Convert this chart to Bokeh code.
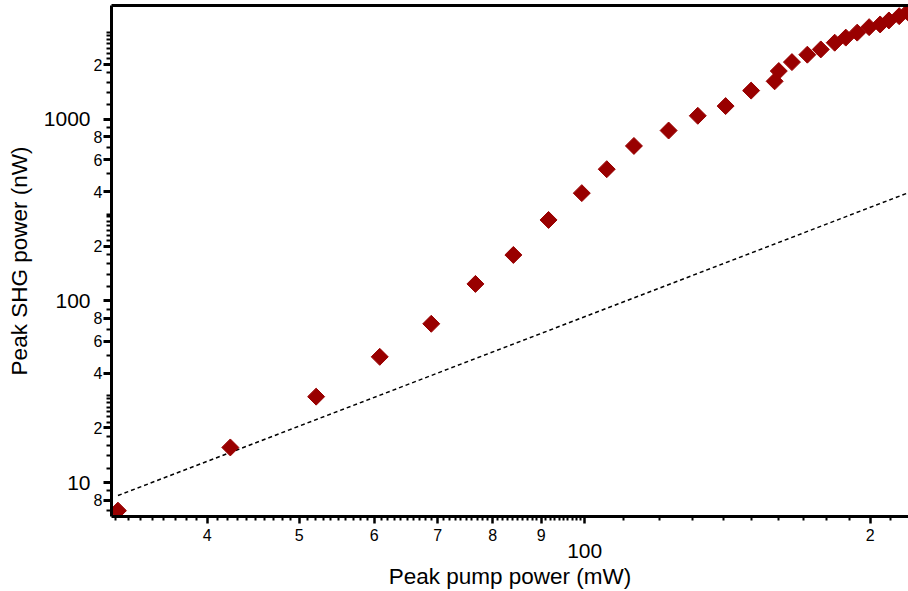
import math
from bokeh.plotting import figure
from bokeh.models import FixedTicker, LogAxis, Range1d
from bokeh.embed import file_html
from bokeh.resources import INLINE

# ---- data ----
pump_mw = [32.2, 42.3, 52.1, 60.8, 68.9, 76.7, 84.1, 91.6, 99.3, 105.5, 112.7,
           122.6, 131.6, 140.8, 149.8, 158.6, 160.2, 165.4, 171.7, 177.4, 183.5,
           188.5, 193.8, 199.5, 204.9, 209.3, 214.6, 219.0]
shg_nw = [7.0, 15.6, 29.7, 49.2, 74.8, 124, 179, 279, 392, 531, 713,
          867, 1045, 1182, 1438, 1618, 1843, 2064, 2267, 2424, 2639,
          2815, 2999, 3215, 3327, 3499, 3695, 3887]

fit_x = [32.2, 220.0]
fit_y = [8.48, 396.0]

x_major = [40, 50, 60, 70, 80, 90, 100, 200]
x_major_labels = ["4", "5", "6", "7", "8", "9", "", "2"]
x_minor = [v for v in range(32, 100) if v not in x_major] + [110, 120, 130, 140, 150, 160, 170, 180, 190, 210]

y_big = [10, 100, 1000]
y_big_labels = ["10", "100", "1000"]
y_small = [8, 20, 40, 60, 80, 200, 400, 600, 800, 2000]
y_small_labels = ["8", "2", "4", "6", "8", "2", "4", "6", "8", "2"]
mults = [1.2, 1.4, 1.6, 1.8, 2, 2.15, 2.3, 2.45, 2.6, 2.75, 2.9, 3, 4, 5, 6, 7, 8, 9]
y_minor = [7, 9] + [round(m * d, 3) for d in (10, 100, 1000) for m in mults
                    if m * d <= 3000 and round(m * d, 3) not in y_small]

FONT = "Liberation Sans"
RED = "#990000"
SMALL = "16px"
BIG = "21px"
TITLE = "22.5px"

p = figure(width=908, height=591, x_axis_type="log", y_axis_type="log",
           x_range=Range1d(31.7, 219.5), y_range=Range1d(6.5, 4230),
           output_backend="svg", toolbar_location=None,
           min_border_left=111, min_border_right=0, min_border_top=5, min_border_bottom=0)
p.xgrid.visible = False
p.ygrid.visible = False
p.outline_line_color = None
p.background_fill_color = "white"

# dashed quadratic reference line
p.line(fit_x, fit_y, line_color="black", line_width=1.5, line_dash="4 3")

# data points (diamonds)
p.scatter(pump_mw, shg_nw, marker="square", size=12, angle=math.pi / 4,
          fill_color=RED, line_color=RED)


def blank_axis(ax):
    ax.axis_line_color = None
    ax.major_tick_out = 0
    ax.major_tick_in = 0
    ax.minor_tick_out = 0
    ax.minor_tick_in = 0


# ---- x axis (ticks + small labels) ----
xa = p.xaxis[0]
xa.ticker = FixedTicker(ticks=x_major, minor_ticks=x_minor)
xa.major_label_overrides = {v: t for v, t in zip(x_major, x_major_labels)}
xa.axis_line_width = 3
xa.axis_line_color = "black"
xa.major_tick_out = 7
xa.major_tick_in = 0
xa.major_tick_line_width = 2.5
xa.minor_tick_out = 4
xa.minor_tick_in = 0
xa.minor_tick_line_width = 2
xa.major_label_text_font = FONT
xa.major_label_text_font_size = SMALL
xa.major_label_text_color = "black"
xa.major_label_standoff = 5
xa.axis_label = None

# second x axis carrying the big "100" label and the title
xb = LogAxis(ticker=FixedTicker(ticks=[100]), major_label_overrides={100: "100"})
blank_axis(xb)
xb.major_label_standoff = 0
xb.major_label_text_font = FONT
xb.major_label_text_font_size = BIG
xb.major_label_text_color = "black"
xb.axis_label = "Peak pump power (mW)"
xb.axis_label_text_font = FONT
xb.axis_label_text_font_size = TITLE
xb.axis_label_text_font_style = "normal"
xb.axis_label_text_color = "black"
xb.axis_label_standoff = 3
p.add_layout(xb, "below")

# top border line
xt = LogAxis(ticker=FixedTicker(ticks=[]))
xt.axis_line_width = 3
xt.axis_line_color = "black"
xt.major_tick_out = 0
xt.major_tick_in = 0
xt.minor_tick_out = 0
xt.minor_tick_in = 0
xt.major_label_text_font_size = "0px"
xt.major_label_standoff = 0
p.add_layout(xt, "above")

# ---- y axis (ticks + small labels) ----
ya = p.yaxis[0]
y_ticks = sorted(y_small + y_big)
ya.ticker = FixedTicker(ticks=y_ticks, minor_ticks=y_minor)
overrides = {v: t for v, t in zip(y_small, y_small_labels)}
overrides.update({v: "" for v in y_big})
ya.major_label_overrides = overrides
ya.axis_line_width = 3
ya.axis_line_color = "black"
ya.major_tick_out = 8
ya.major_tick_in = 0
ya.major_tick_line_width = 3
ya.minor_tick_out = 5
ya.minor_tick_in = 0
ya.minor_tick_line_width = 2
ya.major_label_text_font = FONT
ya.major_label_text_font_size = SMALL
ya.major_label_text_color = "black"
ya.major_label_standoff = 1
ya.axis_label = None

# outer y axis with big decade labels and the title
yb = LogAxis(ticker=FixedTicker(ticks=y_big),
             major_label_overrides={v: t for v, t in zip(y_big, y_big_labels)})
blank_axis(yb)
yb.major_label_standoff = 0
yb.major_label_text_font = FONT
yb.major_label_text_font_size = BIG
yb.major_label_text_color = "black"
yb.axis_label = "Peak SHG power (nW)"
yb.axis_label_text_font = FONT
yb.axis_label_text_font_size = TITLE
yb.axis_label_text_font_style = "normal"
yb.axis_label_text_color = "black"
yb.axis_label_standoff = 9
p.add_layout(yb, "left")

open("out.html", "w").write(file_html(p, INLINE))
